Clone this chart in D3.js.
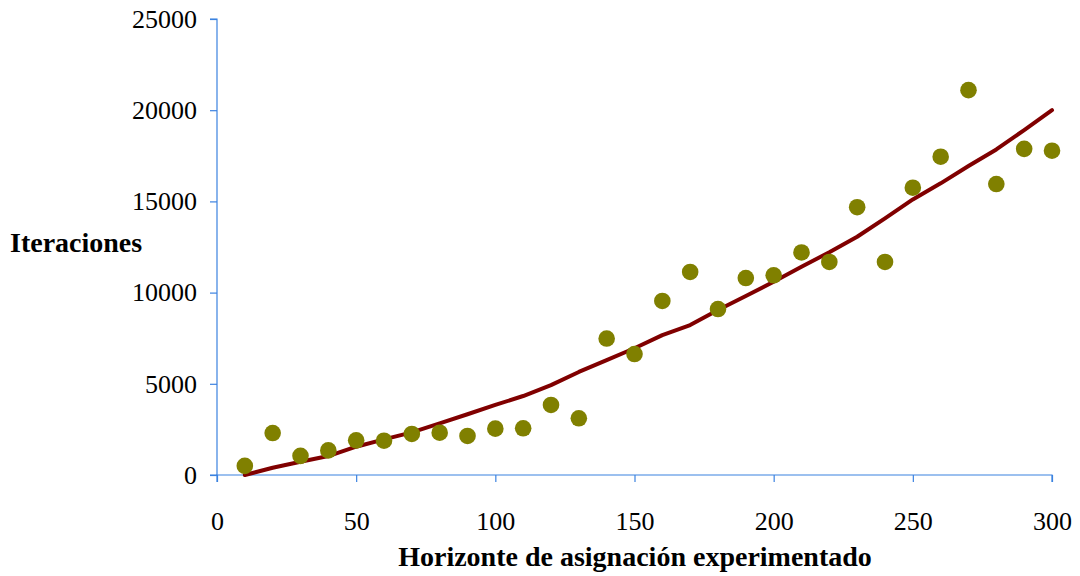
<!DOCTYPE html>
<html>
<head>
<meta charset="utf-8">
<script src="https://cdn.jsdelivr.net/npm/d3@7"></script>
<style>
  body { margin: 0; background: #fff; }
  text { font-family: "Liberation Serif", "DejaVu Serif", serif; fill: #000; }
</style>
</head>
<body>
<div id="chart"></div>
<script>
// horizonte (x) for the measured points
var horizonte = [10,20,30,40,50,60,70,80,90,100,110,120,130,140,150,
                 160,170,180,190,200,210,220,230,240,250,260,270,280,290,300];
// iteraciones observadas
var iteraciones = [500,2300,1050,1350,1900,1880,2250,2320,2140,2540,2560,3840,3110,7480,6630,
                   9540,11130,9100,10800,10950,12200,11680,14680,11680,15750,17450,21100,15950,17880,17780];
// tendencia (dark red line)
var tendencia = [0,400,730,1040,1550,1950,2340,2830,3330,3840,4330,4930,5650,6300,6950,
                 7670,8220,9050,9810,10600,11420,12210,13060,14070,15110,15990,16940,17850,18910,20000];
var xTicks = [0,50,100,150,200,250,300];
var yTicks = [0,5000,10000,15000,20000,25000];

var W = 1080, H = 576;
var svg = d3.select("#chart").append("svg").attr("width", W).attr("height", H);

var x = d3.scaleLinear().domain([0,300]).range([217,1052]);
var y = d3.scaleLinear().domain([0,25000]).range([475,19]);
var axisColor = "#3b82e0";

// y axis
var gy = svg.append("g").attr("transform","translate(217,0)")
    .call(d3.axisLeft(y).tickValues(yTicks).tickSize(7).tickPadding(13).tickFormat(d3.format("d")));
// x axis
var gx = svg.append("g").attr("transform","translate(0,475)")
    .call(d3.axisBottom(x).tickValues(xTicks).tickSize(7).tickPadding(30).tickFormat(d3.format("d")));

[gx, gy].forEach(function(g){
    g.select(".domain").attr("stroke", axisColor).attr("stroke-width",1.2);
    g.selectAll(".tick line").attr("stroke", axisColor).attr("stroke-width",1.2);
    g.selectAll(".tick text").style("font-size","26px").attr("fill","#000");
});
gy.select(".domain").attr("d","M-7,"+y(25000)+"H0V"+y(0)+"H-7");
gx.select(".domain").attr("d","M"+x(0)+",7V0H"+x(300)+"V7");

// trend line
var pts = horizonte.map(function(h,i){ return [h, tendencia[i]]; });
svg.append("path").datum(pts)
    .attr("fill","none").attr("stroke","#800000").attr("stroke-width",4)
    .attr("stroke-linejoin","round").attr("stroke-linecap","round")
    .attr("d", d3.line().x(d=>x(d[0])).y(d=>y(d[1])));

// points
svg.selectAll("circle.obs").data(horizonte).enter().append("circle")
    .attr("class","obs")
    .attr("cx", d=>x(d))
    .attr("cy", (d,i)=>y(iteraciones[i]))
    .attr("r", 8.3)
    .attr("fill","#808000");

// titles
svg.append("text").attr("x",10).attr("y",252)
    .style("font-size","28px").style("font-weight","bold")
    .text("Iteraciones");
svg.append("text").attr("x",635).attr("y",566).attr("text-anchor","middle")
    .style("font-size","28px").style("font-weight","bold")
    .text("Horizonte de asignación experimentado");
</script>
</body>
</html>
